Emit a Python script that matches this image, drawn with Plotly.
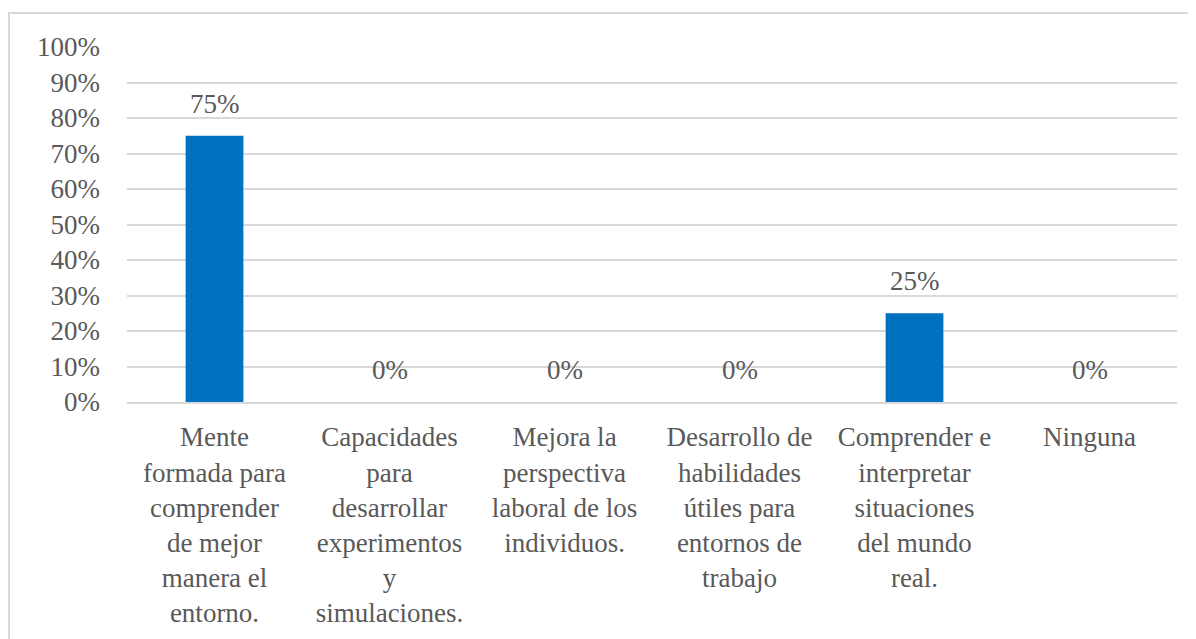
import plotly.graph_objects as go

categories = [
    "Mente<br>formada para<br>comprender<br>de mejor<br>manera el<br>entorno.",
    "Capacidades<br>para<br>desarrollar<br>experimentos<br>y<br>simulaciones.",
    "Mejora la<br>perspectiva<br>laboral de los<br>individuos.",
    "Desarrollo de<br>habilidades<br>útiles para<br>entornos de<br>trabajo",
    "Comprender e<br>interpretar<br>situaciones<br>del mundo<br>real.",
    "Ninguna",
]
values = [0.75, 0, 0, 0, 0.25, 0]
value_labels = ["75%", "0%", "0%", "0%", "25%", "0%"]
tick_vals = [i / 10 for i in range(11)]
tick_text = [f"{i * 10}%" for i in range(11)]

OFF = 8  # default page body margin
W, H = 1196 - OFF, 639 - OFF
L, R, T, B = 127 - OFF, 19, 47 - OFF, 237
pw, ph = W - L - R, H - T - B

FAM = "Liberation Serif"
FS = 27
COL = "#595959"
FONT = dict(family=FAM, size=FS, color=COL)

fig = go.Figure(
    go.Bar(
        x=categories,
        y=values,
        marker=dict(color="#0070C0", line=dict(width=0)),
        width=0.33,
        cliponaxis=False,
    )
)

for c, v, t in zip(categories, values, value_labels):
    fig.add_annotation(
        x=c, y=v, text=t, showarrow=False,
        yanchor="middle", yshift=32, font=FONT,
    )

fig.update_layout(
    template="none",
    width=W,
    height=H,
    margin=dict(l=L, r=R, t=T, b=B, pad=0),
    paper_bgcolor="white",
    plot_bgcolor="white",
    font=FONT,
    showlegend=False,
    bargap=0.67,
)
fig.update_xaxes(
    showgrid=False,
    showline=True,
    linecolor="#d9d9d9",
    linewidth=2,
    ticks="",
    tickangle=0,
    ticklabelstandoff=10,
    tickfont=FONT,
)
fig.update_yaxes(
    range=[0, 1],
    tickvals=tick_vals,
    ticktext=tick_text,
    showgrid=True,
    gridcolor="#d9d9d9",
    gridwidth=2,
    zeroline=False,
    showline=False,
    ticks="",
    ticklabelstandoff=26,
    tickfont=FONT,
)

# chart frame
fig.add_shape(
    type="rect",
    xref="paper",
    yref="paper",
    x0=(9 - 127) / pw,
    x1=(1196 + 10 - 127) / pw,
    y0=-(639 + 10 - 402) / ph,
    y1=1 + (47 - 13) / ph,
    line=dict(color="#d9d9d9", width=2),
    fillcolor="rgba(0,0,0,0)",
    layer="below",
)

fig.write_html("out.html")
